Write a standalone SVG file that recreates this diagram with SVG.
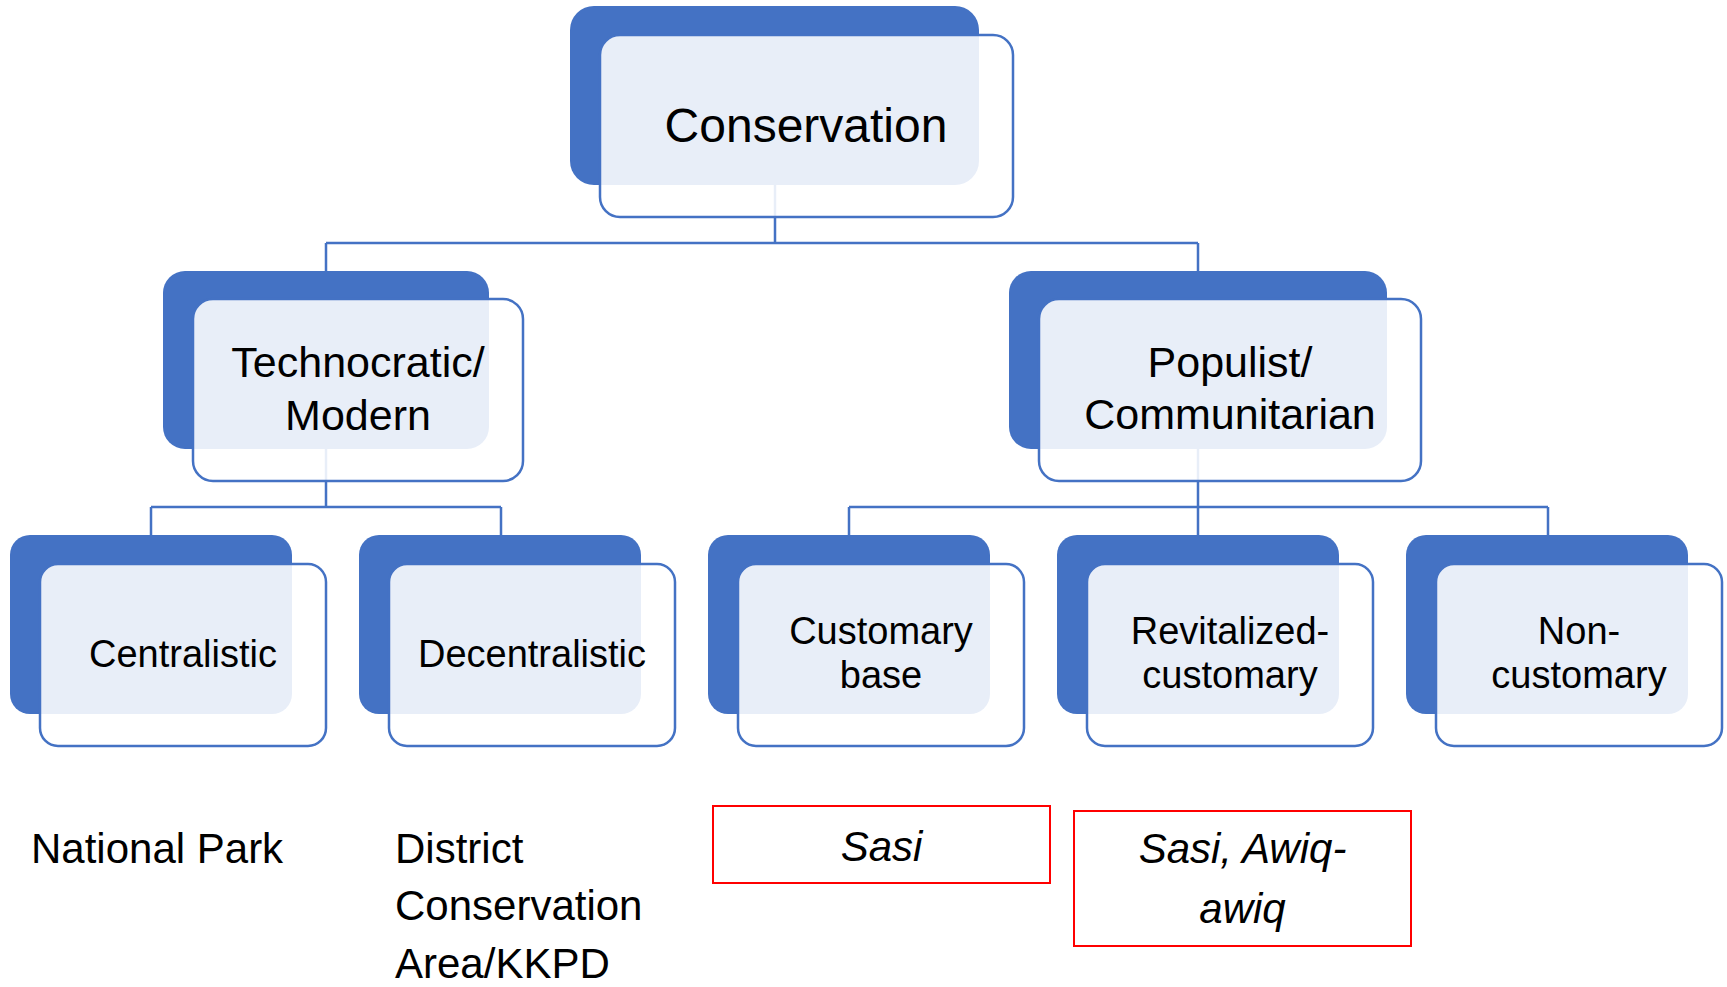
<svg xmlns="http://www.w3.org/2000/svg" width="1727" height="987" viewBox="0 0 1727 987">
<style>
.blue{fill:#4472C4;}
.card{fill:#FFFFFF;fill-opacity:0.88;stroke:#4472C4;stroke-width:2.5;}
.conn{fill:none;stroke:#4472C4;stroke-width:2.5;}
.t{font-family:"Liberation Sans",Arial,sans-serif;fill:#000;text-anchor:middle;}
.l{font-family:"Liberation Sans",Arial,sans-serif;fill:#000;}
.red{fill:none;stroke:#FF0000;stroke-width:2;}
.it{font-style:italic;}
</style>
<rect width="1727" height="987" fill="#FFFFFF"/>
<g id="connectors">
<path class="conn" d="M775,185 V243 M326,243 H1198 M326,243 V271 M1198,243 V271"/>
<path class="conn" d="M326,449 V507 M151,507 H501 M151,507 V535 M501,507 V535"/>
<path class="conn" d="M1198,449 V507 M849,507 H1548 M849,507 V535 M1198,507 V535 M1548,507 V535"/>
</g>
<g id="node-conservation">
<rect class="blue" x="570" y="6" width="409" height="179" rx="24"/>
<rect class="card" x="600" y="35" width="413" height="182" rx="20"/>
<text class="t" x="806" y="142" font-size="48">Conservation</text>
</g>
<g id="node-technocratic">
<rect class="blue" x="163" y="271" width="326" height="178" rx="22"/>
<rect class="card" x="193" y="299" width="330" height="182" rx="20"/>
<text class="t" x="358" y="377" font-size="43">Technocratic/</text>
<text class="t" x="358" y="430" font-size="43">Modern</text>
</g>
<g id="node-populist">
<rect class="blue" x="1009" y="271" width="378" height="178" rx="22"/>
<rect class="card" x="1039" y="299" width="382" height="182" rx="20"/>
<text class="t" x="1230" y="377" font-size="43">Populist/</text>
<text class="t" x="1230" y="429" font-size="43">Communitarian</text>
</g>
<g id="node-centralistic">
<rect class="blue" x="10" y="535" width="282" height="179" rx="20"/>
<rect class="card" x="40" y="564" width="286" height="182" rx="18"/>
<text class="t" x="183" y="667" font-size="38">Centralistic</text>
</g>
<g id="node-decentralistic">
<rect class="blue" x="359" y="535" width="282" height="179" rx="20"/>
<rect class="card" x="389" y="564" width="286" height="182" rx="18"/>
<text class="t" x="532" y="667" font-size="38">Decentralistic</text>
</g>
<g id="node-customary-base">
<rect class="blue" x="708" y="535" width="282" height="179" rx="20"/>
<rect class="card" x="738" y="564" width="286" height="182" rx="18"/>
<text class="t" x="881" y="644" font-size="38">Customary</text>
<text class="t" x="881" y="688" font-size="38">base</text>
</g>
<g id="node-revitalized">
<rect class="blue" x="1057" y="535" width="282" height="179" rx="20"/>
<rect class="card" x="1087" y="564" width="286" height="182" rx="18"/>
<text class="t" x="1230" y="644" font-size="38">Revitalized-</text>
<text class="t" x="1230" y="688" font-size="38">customary</text>
</g>
<g id="node-noncustomary">
<rect class="blue" x="1406" y="535" width="282" height="179" rx="20"/>
<rect class="card" x="1436" y="564" width="286" height="182" rx="18"/>
<text class="t" x="1579" y="644" font-size="38">Non-</text>
<text class="t" x="1579" y="688" font-size="38">customary</text>
</g>
<g id="label-national-park">
<text class="l" x="31" y="863" font-size="42">National Park</text>
</g>
<g id="label-district">
<text class="l" x="395" y="863" font-size="42">District</text>
<text class="l" x="395" y="920" font-size="42">Conservation</text>
<text class="l" x="395" y="978" font-size="42">Area/KKPD</text>
</g>
<g id="label-sasi">
<rect class="red" x="713" y="806" width="337" height="77"/>
<text class="t it" x="881.5" y="861" font-size="42">Sasi</text>
</g>
<g id="label-sasi-awiq">
<rect class="red" x="1074" y="811" width="337" height="135"/>
<text class="t it" x="1242.5" y="863" font-size="42">Sasi, Awiq-</text>
<text class="t it" x="1242.5" y="923" font-size="42">awiq</text>
</g>
</svg>
